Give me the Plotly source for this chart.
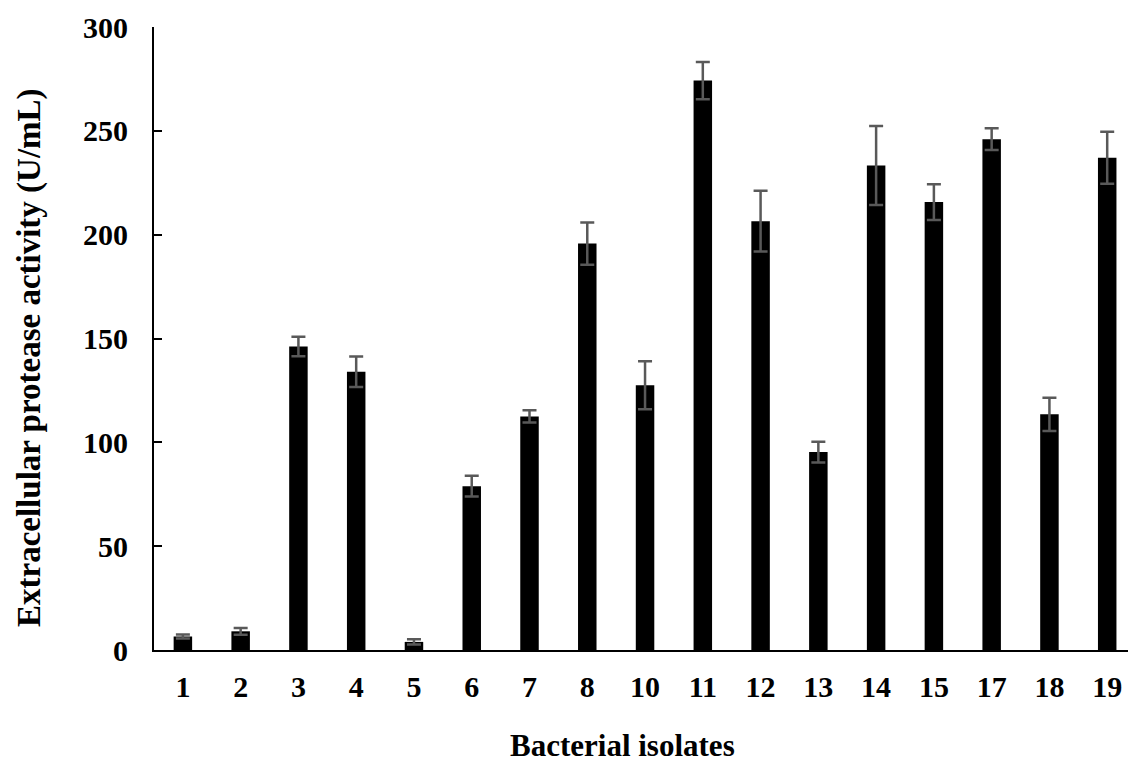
import plotly.graph_objects as go

isolates = ["1", "2", "3", "4", "5", "6", "7", "8", "10", "11", "12", "13", "14", "15", "17", "18", "19"]
activity = [6.5, 9.0, 146.2, 134.0, 3.9, 78.9, 112.5, 195.7, 127.5, 274.2, 206.5, 95.3, 233.3, 215.7, 246.0, 113.5, 237.0]
error = [1.0, 1.6, 4.7, 7.3, 1.3, 5.0, 3.0, 10.2, 11.6, 9.0, 14.6, 5.0, 19.0, 8.6, 5.2, 8.0, 12.5]
y_ticks = [0, 50, 100, 150, 200, 250, 300]

FONT = "Liberation Serif, Times New Roman, serif"

fig = go.Figure(
    go.Bar(
        x=isolates,
        y=activity,
        marker=dict(color="black", line=dict(width=0)),
        width=0.32,
        error_y=dict(type="data", array=error, visible=True,
                     color="#595959", thickness=2.5, width=7),
    )
)

fig.update_layout(
    width=1128, height=765,
    margin=dict(l=154, r=0, t=27, b=115),
    paper_bgcolor="white", plot_bgcolor="white",
    showlegend=False,
    font=dict(family=FONT, color="black", size=30),
    annotations=[
        dict(text="<b>Bacterial isolates</b>", xref="paper", yref="paper",
             x=(622 - 154) / (1128 - 154), y=-(745 - 650) / 623.0,
             xanchor="center", yanchor="middle", showarrow=False,
             font=dict(family=FONT, size=31, color="black")),
        dict(text="<b>Extracellular protease activity (U/mL)</b>", xref="paper", yref="paper",
             x=-(154 - 30) / (1128 - 154), y=(650 - 358) / 623.0, textangle=-90,
             xanchor="center", yanchor="middle", showarrow=False,
             font=dict(family=FONT, size=33, color="black")),
    ],
)

fig.update_xaxes(
    type="category",
    range=[-0.5, 16.36],
    showline=True, linecolor="black", linewidth=2,
    ticks="", showgrid=False, zeroline=False,
    tickfont=dict(family=FONT, size=30, color="black", weight="bold"),
    ticklabelstandoff=9,
)

fig.update_yaxes(
    range=[0, 300],
    tickvals=y_ticks,
    ticktext=[str(v) for v in y_ticks],
    showline=True, linecolor="black", linewidth=2,
    ticks="inside", ticklen=8, tickwidth=2, tickcolor="black",
    showgrid=False, zeroline=False,
    tickfont=dict(family=FONT, size=30, color="black", weight="bold"),
    ticklabelstandoff=18,
)

fig.write_html("out.html", config={"displayModeBar": False})

# remove the default page margin so the figure sits at the window's top-left corner
with open("out.html", "r", encoding="utf-8") as f:
    html = f.read()
html = html.replace("<body>", '<body style="margin:0;padding:0;overflow:hidden">', 1)
with open("out.html", "w", encoding="utf-8") as f:
    f.write(html)
